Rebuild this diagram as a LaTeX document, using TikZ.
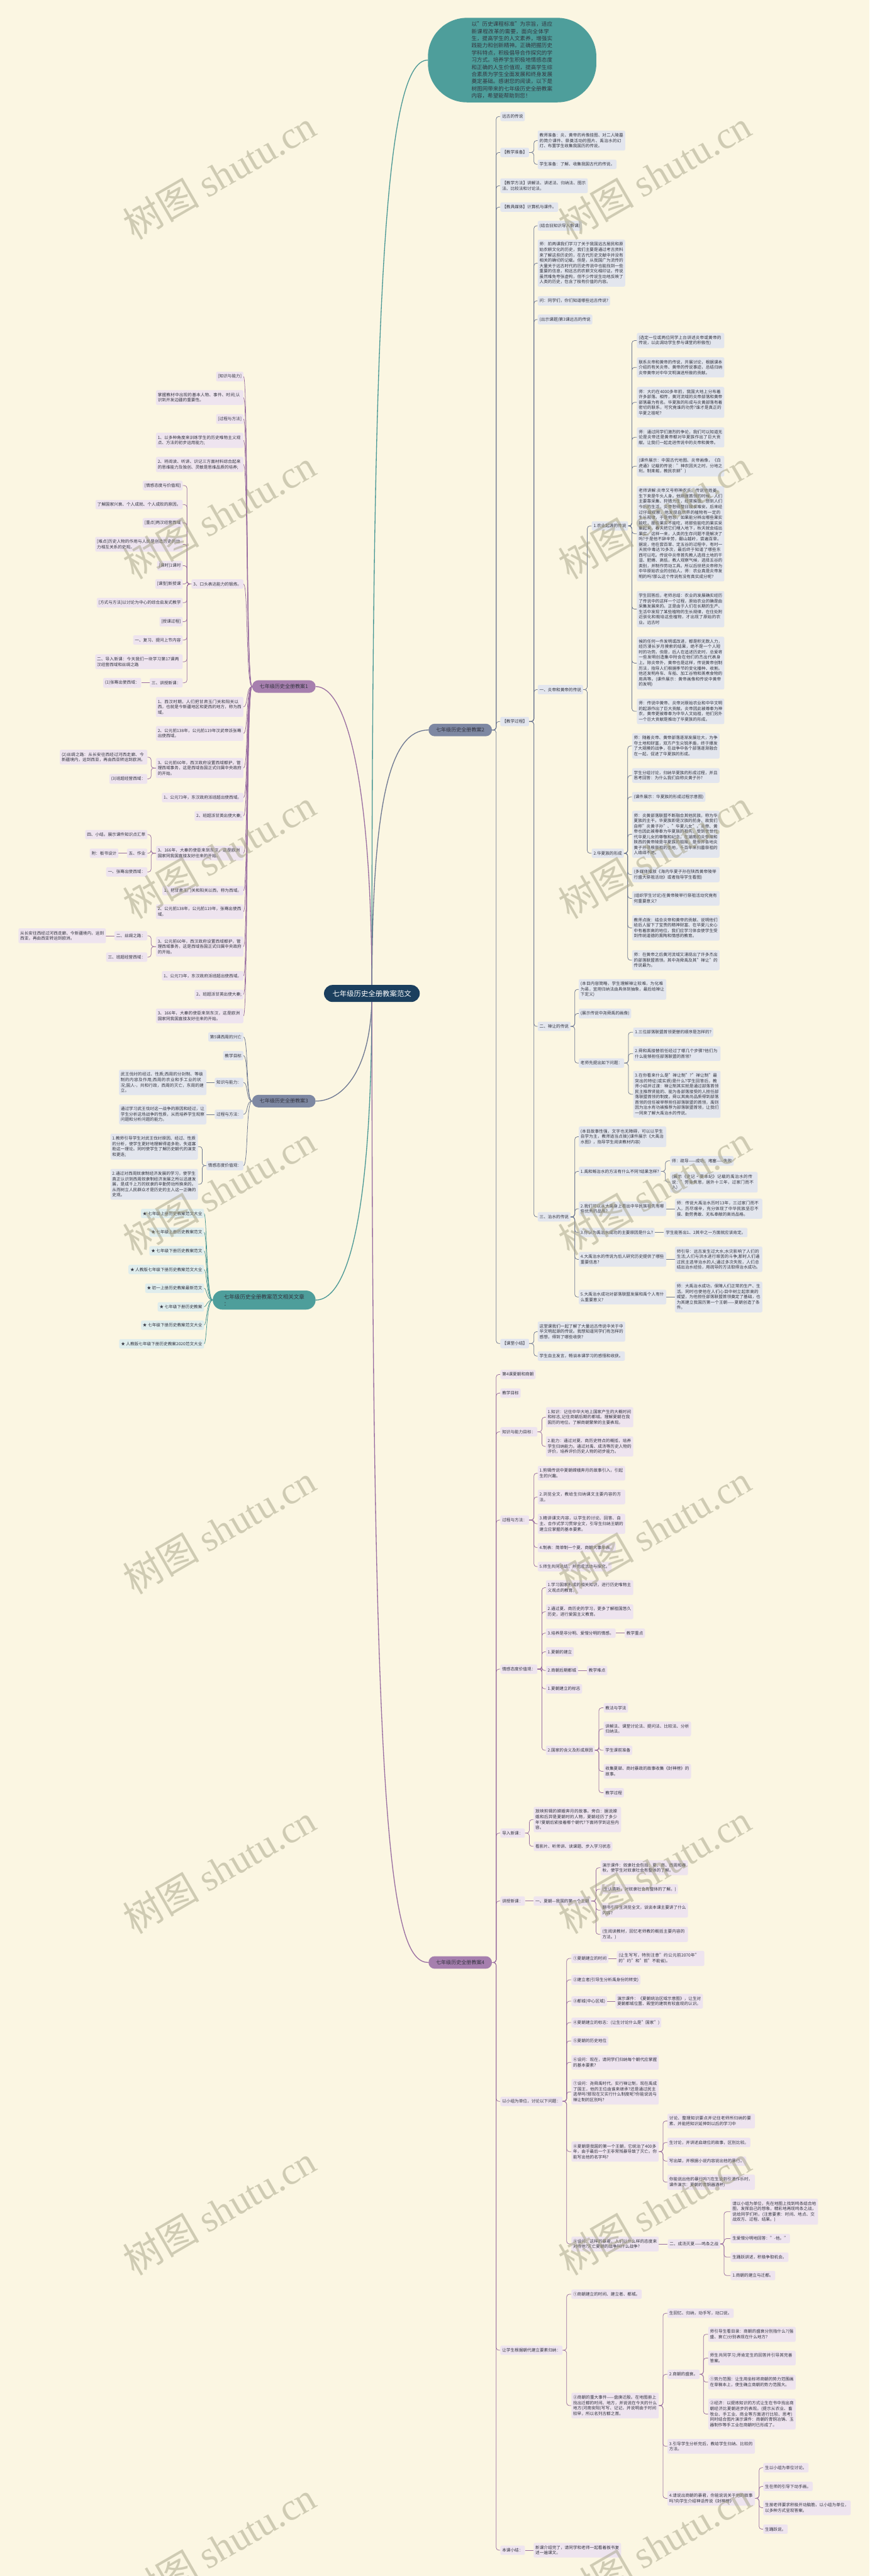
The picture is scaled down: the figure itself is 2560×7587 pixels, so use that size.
\documentclass[tikz,border=0pt]{standalone}
\usepackage{fontspec}
\setmainfont{Noto Sans CJK SC}
\newfontfamily\stampfont{Liberation Serif}
\XeTeXlinebreaklocale "zh"
\XeTeXlinebreakskip=0pt plus 1pt
\usetikzlibrary{positioning, backgrounds}
\definecolor{paper}{HTML}{FBF6E2}
\definecolor{navy}{HTML}{1B3F5E}
\definecolor{ink}{HTML}{33343F}
\definecolor{slate}{HTML}{7E88A2}
\definecolor{slatesoft}{HTML}{E3E6EE}
\definecolor{slateedge}{HTML}{6D7791}
\definecolor{plum}{HTML}{A67FAE}
\definecolor{plumsoft}{HTML}{EEE4EF}
\definecolor{plumedge}{HTML}{9A6EA1}
\definecolor{sea}{HTML}{4E9E9B}
\definecolor{seasoft}{HTML}{DFEDED}
\definecolor{seaedge}{HTML}{4A9895}
\definecolor{stampgray}{HTML}{A4A186}
\tikzset{
  rootbox/.style={rectangle, rounded corners=0.5cm, fill=navy, text=white,
    font=\fontsize{12}{14}\selectfont, minimum width=5.64cm, minimum height=1cm},
  introbox/.style={rectangle, rounded corners=2.3cm, fill=sea, text=ink,
    font=\fontsize{9}{12}\selectfont, text width=136pt, align=left,
    minimum width=9.92cm, minimum height=4.98cm},
  headbox/.style={rectangle, rounded corners=0.37cm, text=ink,
    font=\fontsize{8.5}{10}\selectfont, minimum width=3.74cm, minimum height=0.74cm},
  slatehead/.style={headbox, fill=slate},
  plumhead/.style={headbox, fill=plum},
  seahead/.style={headbox, fill=sea, rounded corners=0.56cm, minimum width=6.06cm,
    minimum height=1.12cm, align=left, inner xsep=0.56cm, font=\fontsize{9}{11}\selectfont},
  leaf/.style={rectangle, rounded corners=2.5pt, text=ink, font=\fontsize{7}{9}\selectfont,
    inner xsep=3pt, inner ysep=4.6pt, align=left},
  para/.style={text width=140.5pt},
  slateitem/.style={leaf, fill=slatesoft},
  plumitem/.style={leaf, fill=plumsoft},
  seaitem/.style={leaf, fill=seasoft},
  slateline/.style={draw=slateedge, line width=0.8pt, rounded corners=4.5pt},
  plumline/.style={draw=plumedge, line width=0.8pt, rounded corners=4.5pt},
  sealine/.style={draw=seaedge, line width=0.8pt, rounded corners=4.5pt},
  trunk/.style={line width=1.4pt},
  stamp/.style={rotate=30, text=stampgray, text opacity=0.5, font=\fontsize{64}{64}\selectfont},
}
\begin{document}
\begin{tikzpicture}[x=0.02cm, y=-0.02cm]
  \useasboundingbox (0,0) rectangle (2560,7587);

  \node[rootbox] (root) at (1095,2926) {七年级历史全册教案范文};
  \node[introbox] (intro) at (1508,177) {以"历史课程标准"为宗旨，适应新课程改革的需要，面向全体学生，提高学生的人文素养，增强实践能力和创新精神。正确把握历史学科特点，积极倡导合作探究的学习方式。培养学生积极地情感态度和正确的人生价值观，提高学生综合素质为学生全面发展和终身发展奠定基础。感谢您的阅读，以下是树图网带来的七年级历史全册教案内容，希望能帮助到您！};

  \node[plumhead, anchor=west] (p1) at (742,2022) {七年级历史全册教案1};
  \node[slatehead, anchor=east] (p2) at (1449,2150) {七年级历史全册教案2};
  \node[slatehead, anchor=west] (p3) at (742,3243) {七年级历史全册教案3};
  \node[seahead, anchor=west] (rel) at (626,3829) {七年级历史全册教案范文相关文章\\：};
  \node[plumhead, anchor=east] (p4) at (1449,5780) {七年级历史全册教案4};

  % 教案2
  \node[slateitem, anchor=west] (b2a) at (1473,343) {远古的传说};
  \node[slateitem, anchor=west] (b2prep) at (1473,449) {【教学准备】};
  \node[slateitem, para, anchor=west] (b2prepA) at (1583,414) {教师准备：炎、黄帝的肖像挂图、对二人陵墓的简介课件、祭奠活动的图片、禹治水的幻灯、布置学生收集我国历的传说。};
  \node[slateitem, anchor=west] (b2prepB) at (1583,484) {学生准备：了解、收集我国古代的传说。};
  \node[slateitem, para, anchor=west] (b2meth) at (1473,547) {【教学方法】讲解法、讲述法、归纳法、图示法、比较法和讨论法。};
  \node[slateitem, anchor=west] (b2media) at (1473,610) {【教具媒体】计算机与课件。};
  \node[slateitem, anchor=west] (b2proc) at (1473,2125) {【教学过程】};
  \node[slateitem, anchor=west] (b2i1) at (1583,665) {(结合旧知识导入新课)};
  \node[slateitem, para, anchor=west] (b2i2) at (1583,775) {师：前两课我们学习了关于我国远古居民和原始农耕文化的历史，我们主要是通过考古资料来了解这些历史的，在古代历史文献中并没有相关的确切的记载。但是，从我国广为流传的大量关于远古时代的历史传说中也能找到一些重要的信息，和远古的农耕文化相印证。传说虽然难免夸张虚构，但不少传说生动地反映了人类的历史，包含了极有价值的内容。};
  \node[slateitem, anchor=west] (b2i3) at (1583,886) {问：同学们，你们知道哪些远古传说?};
  \node[slateitem, anchor=west] (b2i4) at (1583,941) {(出示课题)第3课远古的传说};
  \node[slateitem, anchor=west] (b2yan) at (1583,2031) {一、炎帝和黄帝的传说};
  \node[slateitem, anchor=west] (b2chan) at (1583,3023) {二、禅让的传说};
  \node[slateitem, anchor=west] (b2flood) at (1583,3584) {三、治水的传说};

  \node[slateitem, anchor=west] (b2farm) at (1742,1549) {1.农业起源的传说};
  \node[slateitem, para, anchor=west] (farm1) at (1875,1003) {(选定一位或两位同学上台讲述炎帝或黄帝的传说，以此调动学生参与课堂的积极性)};
  \node[slateitem, para, anchor=west] (farm2) at (1875,1082) {联系炎帝和黄帝的传说，开展讨论，根据课本介绍的有关炎帝、黄帝的传说事迹，总结归纳炎帝黄帝对中华文明演进所做的贡献。};
  \node[slateitem, para, anchor=west] (farm3) at (1875,1185) {师：大约在4000多年前，我国大地上分布着许多部落。相传，黄河流域的炎帝部落和黄帝部落最为有名。华夏族的形成与炎黄部落有着密切的联系，可究竟谁的功劳?谁才是真正的华夏之祖呢?};
  \node[slateitem, para, anchor=west] (farm4) at (1875,1288) {师：通过同学们激烈的争论，我们可以知道无论是炎帝还是黄帝都对华夏族作出了巨大贡献。让我们一起走进传说中的炎帝和黄帝。};
  \node[slateitem, para, anchor=west] (farm5) at (1875,1373) {(课件展示：中国古代地图、炎帝画像，《白虎通》记载的传说："神农因天之时，分地之利，制耒耜，教民农耕")};
  \node[slateitem, para, anchor=west] (farm6) at (1875,1572) {老师讲解:炎帝又号称神农氏。传说他姓姜，生下来是牛头人身。他刚做首领的时候，人们主要靠采集、狩猎为生，经常挨饿。想到人们今后的生活，炎帝愁得整日寝食难安。后来经过仔细观察，他发现自然界的植物有一定的生长规律，于是他想，如果能分辨出哪些果实能吃，那些果实不能吃，将那些能吃的果实采集起来，春天把它们埋入地下，秋天就会结出果实。这样一来，人类的生存问题不是解决了吗?于是他不辞辛劳，翻山越岭，尝遍百草。据说，他在尝百草、定五谷的过程中，有时一天就中毒达70多次，最后终于知道了哪些东西可以吃。传说中炎帝首先教人选择土地的干湿、肥瘠、高低，教人观察气候，选择五谷的类别，并制作劳动工具。所以后世把炎帝称为中华原始农业的创始人。师：农业真是炎帝发明的吗?那么这个传说有没有真实成分呢?};
  \node[slateitem, para, anchor=west] (farm7) at (1875,1794) {学生回答后，老师总结：农业的发展确实经历了传说中的这样一个过程，原始农业的确是由采集发展来的。正是由于人们在长期的生产、生活中发现了某些植物的生长规律，在住处附近驯化和栽培这些植物，才出现了原始的农业。远古时};
  \node[slateitem, para, anchor=west] (farm8) at (1875,1953) {候的任何一件发明或改进，都是积无数人力，经历漫长岁月摸索的结果，绝不是一个人短时的功劳。但是，后人在追述历史时，总爱将一些发明创造集中附会在他们的杰出代表身上。除炎帝外，黄帝也是这样，传说黄帝创制历法，指导人们根据季节的变化播种、收割。他还发明舟车、车船、加工谷物和蒸煮食物的用具等。(课件展示：黄帝画像和传说中黄帝的发明)};
  \node[slateitem, para, anchor=west] (farm9) at (1875,2095) {师：传说中黄帝、炎帝对原始农业和中华文明的起源作出了巨大贡献。炎帝因此被尊奉为神农，黄帝更被尊奉为中华人文始祖，他们另外一个巨大贡献是推动了华夏族的形成。};

  \node[slateitem, anchor=west] (b2hx) at (1742,2513) {2.华夏族的形成};
  \node[slateitem, para, anchor=west] (hx1) at (1861,2197) {师：随着炎帝、黄帝部落逐渐发展壮大，为争夺土地和财富，双方产生尖锐矛盾，终于爆发了大规模的战争，在战争中各个部落逐渐融合在一起，促进了华夏族的形成。};
  \node[slateitem, para, anchor=west] (hx2) at (1861,2284) {学生分组讨论，归纳华夏族的形成过程，并且思考回答：为什么我们自称炎黄子孙?};
  \node[slateitem, anchor=west] (hx3) at (1861,2347) {(课件展示：华夏族的形成过程示意图)};
  \node[slateitem, para, anchor=west] (hx4) at (1861,2457) {师：炎黄部落联盟不断融合其他民族，称为华夏族的主干。华夏族即是汉族的前身，故我们自称"炎黄子孙"、"华夏儿女"。炎帝、黄帝也因此被尊奉为华夏族的祖先，受到世世代代华夏儿女的尊敬和纪念，在湖南的炎帝陵和陕西的黄帝陵是华夏族的祖陵，是世界各地炎黄子孙寻根祭祖的圣地，千百年来扫墓祭祖的人络绎不绝。};
  \node[slateitem, para, anchor=west] (hx5) at (1861,2576) {(多媒体播放《海内华夏子孙在陕西黄帝陵举行盛大祭祖活动》或者指导学生看图)};
  \node[slateitem, para, anchor=west] (hx6) at (1861,2646) {(组织学生讨论)在黄帝陵举行祭祖活动究竟有何重要意义?};
  \node[slateitem, para, anchor=west] (hx7) at (1861,2733) {教师点拨：结合炎帝和黄帝的贡献、说明他们给后人留下了宝贵的精神财富、在华夏儿女心中有着崇高的地位，我们应学习体会使学生受到传统道德的熏陶和情感的教育。};
  \node[slateitem, para, anchor=west] (hx8) at (1861,2828) {师：在黄帝之后黄河流域又涌现出了许多杰出的部落联盟首领。其中尧舜禹及其"禅让"的传说最为。};

  \node[slateitem, para, anchor=west] (ch1) at (1704,2914) {(本目内容简略，学生理解禅让较难，为化难为易，宜用归纳法由具体到抽象，最后给禅让下定义)};
  \node[slateitem, anchor=west] (ch2) at (1704,2985) {(展示传说中尧舜禹的画像)};
  \node[slateitem, anchor=west] (ch3) at (1704,3131) {老师先提出如下问题：};
  \node[slateitem, anchor=west] (q1) at (1864,3040) {1.三位部落联盟首领更替的顺序是怎样的?};
  \node[slateitem, para, anchor=west] (q2) at (1864,3103) {2.舜和禹接替前任经过了哪几个步骤?他们为什么能够担任部落联盟的首领?};
  \node[slateitem, para, anchor=west] (q3) at (1864,3223) {3.在你看来什么是"禅让制"?"禅让制"最突出的特征(或实质)是什么?学生回答后，教师小结并过渡：禅让制其实就是通过部落首领民主推荐贤能的、能为各部落接受的人担任部落联盟首领的制度。舜以其高尚品质得到部落首领的信任被举荐担任部落联盟的首领，禹则因为治水有功被推荐为部落联盟首领，让我们一同来了解大禹治水的传说。};

  \node[slateitem, para, anchor=west] (w1) at (1704,3348) {(本目故事性强，文字也无障碍，可以以学生自学为主，教师适当点拨)(课件展示《大禹治水图》，指导学生阅读教材内容)};
  \node[slateitem, anchor=west] (w2) at (1704,3450) {1.禹和鲧治水的方法有什么不同?结果怎样?};
  \node[slateitem, anchor=west] (w2a) at (1973,3419) {师：疏导——成功；堵塞——失败};
  \node[slateitem, para, anchor=west] (w2b) at (1973,3482) {(展示《史记•夏本纪》记载的禹治水的传说："劳身焦思，居外十三年，过家门而不入)};
  \node[slateitem, para, anchor=west] (w3) at (1704,3560) {2.我们可以从大禹身上看出中华民族祖先有哪些优秀的品质?};
  \node[slateitem, para, anchor=west] (w3a) at (1987,3560) {师：传说大禹治水历时13年，三过家门而不入，历尽艰辛，充分体现了中华民族坚忍不拔、勤劳勇敢、无私奉献的高尚品格。};
  \node[slateitem, anchor=west] (w4) at (1704,3630) {3.你认为禹治水成功的主要原因是什么?};
  \node[slateitem, anchor=west] (w4a) at (1955,3630) {学生能答出1、2其中之一方面就应该肯定。};
  \node[slateitem, para, anchor=west] (w5) at (1704,3709) {4.大禹治水的传说为后人研究历史提供了哪些重要信息?};
  \node[slateitem, para, anchor=west] (w5a) at (1987,3709) {师引导：远古发生过大水;水灾影响了人们的生活;人们与洪水进行艰苦的斗争;那时人们通过民主选举治水的人;通过多次失败，人们总结出治水经验，用疏导的方法取得治水成功。};
  \node[slateitem, para, anchor=west] (w6) at (1704,3820) {5.大禹治水成功对部落联盟发展和禹个人有什么重要意义?};
  \node[slateitem, para, anchor=west] (w6a) at (1987,3820) {师：大禹治水成功，保障人们正常的生产、生活。同时也使他在人们心目中树立起崇高的威望，为他担任部落联盟首领奠定了基础，也为其建立我国历第一个王朝——夏朝创造了条件。};

  \node[slateitem, anchor=west] (b2sum) at (1473,3957) {【课堂小结】};
  \node[slateitem, para, anchor=west] (sum1) at (1583,3922) {这堂课我们一起了解了大量远古传说中关于中华文明起源的传说。我想知道同学们有怎样的感想，得到了哪些收获?};
  \node[slateitem, anchor=west] (sum2) at (1583,3994) {学生自主发言，畅谈本课学习的感悟和收获。};

  % 教案4
  \node[plumitem, anchor=west] (d1) at (1473,4048) {第4课夏朝和商朝};
  \node[plumitem, anchor=west] (d2) at (1473,4103) {教学目标};
  \node[plumitem, anchor=west] (d3) at (1473,4217) {知识与能力目标：};
  \node[plumitem, para, anchor=west] (d3a) at (1607,4174) {1.知识：记住中华大地上国家产生的大概时间和标志,记住商朝后期的都城。理解夏朝在我国历的地位。了解商朝繁荣的主要表现。};
  \node[plumitem, para, anchor=west] (d3b) at (1607,4260) {2.能力：通过对夏、商历史特点的概括，培养学生归纳能力。通过对禹、成汤等历史人物的评价，培养评价历史人物的初步能力。};
  \node[plumitem, anchor=west] (d4) at (1473,4477) {过程与方法：};
  \node[plumitem, para, anchor=west] (d4a) at (1583,4339) {1.剪辑传说中夏朝嫦娥奔月的故事引入，引起生的兴趣。};
  \node[plumitem, para, anchor=west] (d4b) at (1583,4409) {2.浏览全文，教给生归纳课文主要内容的方法。};
  \node[plumitem, para, anchor=west] (d4c) at (1583,4488) {3.精讲课文内容，以学生的讨论、回答、自主、合作式学习贯穿全文，引导生归纳王朝的建立应掌握的基本要素。};
  \node[plumitem, anchor=west] (d4d) at (1583,4558) {4.制表：简单制一个夏、商朝大事年表。};
  \node[plumitem, anchor=west] (d4e) at (1583,4614) {5.师生共同总结，并完成活动与探究。};
  \node[plumitem, anchor=west] (d5) at (1473,4916) {情感态度价值观：};
  \node[plumitem, para, anchor=west] (d5a) at (1607,4676) {1.学习国家形成的相关知识，进行历史唯物主义观点的教育。};
  \node[plumitem, para, anchor=west] (d5b) at (1607,4747) {2.通过夏、商历史的学习，更多了解祖国悠久历史，进行爱国主义教育。};
  \node[plumitem, anchor=west] (d5c) at (1607,4810) {3.培养是非分明、爱憎分明的情感。};
  \node[plumitem, anchor=west] (d5ck) at (1839,4810) {教学重点};
  \node[plumitem, anchor=west] (d5d) at (1607,4865) {1.夏朝的建立};
  \node[plumitem, anchor=west] (d5e) at (1607,4920) {2.商朝后期都城};
  \node[plumitem, anchor=west] (d5ek) at (1728,4920) {教学难点};
  \node[plumitem, anchor=west] (d5f) at (1607,4974) {1.夏朝建立的标志};
  \node[plumitem, anchor=west] (d5g) at (1607,5155) {2.国家的含义及形成原因};
  \node[plumitem, anchor=west] (d5g1) at (1777,5030) {教法与学法};
  \node[plumitem, para, anchor=west] (d5g2) at (1777,5092) {讲解法、课堂讨论法、提问法、比较法、分析归纳法。};
  \node[plumitem, anchor=west] (d5g3) at (1777,5155) {学生课前准备};
  \node[plumitem, para, anchor=west] (d5g4) at (1777,5217) {收集夏桀、商纣暴政的故事收集《封神榜》的故事。};
  \node[plumitem, anchor=west] (d5g5) at (1777,5280) {教学过程};
  \node[plumitem, anchor=west] (d6) at (1473,5399) {导入新课：};
  \node[plumitem, para, anchor=west] (d6a) at (1571,5359) {放映剪辑的嫦娥奔月的故事。旁白：据说嫦娥和后羿是夏朝时的人物，夏朝经历了多少年?夏朝后紧接着哪个朝代?下面将学到这些内容。};
  \node[plumitem, anchor=west] (d6b) at (1571,5438) {看影片、听师讲、读课题、步入学习状态};
  \node[plumitem, anchor=west] (d7) at (1473,5599) {讲授新课：};
  \node[plumitem, anchor=west] (d7a) at (1571,5599) {一、夏朝—我国的第一个王朝};
  \node[plumitem, para, anchor=west] (d7a1) at (1768,5501) {演示课件：奴隶社会包括：夏、商、西周和春秋，使学生对奴隶社会有整体的了解。};
  \node[plumitem, anchor=west] (d7a2) at (1768,5564) {(生认真听，对奴隶社会有整体的了解。)};
  \node[plumitem, para, anchor=west] (d7a3) at (1768,5626) {翻书引导生浏览全文，谈谈本课主要讲了什么内容?};
  \node[plumitem, para, anchor=west] (d7a4) at (1768,5697) {(生阅读教材，回忆老师教的概括主要内容的方法。)};
  \node[plumitem, anchor=west] (d8) at (1473,6189) {以小组为单位，讨论以下问题：};
  \node[plumitem, anchor=west] (g1) at (1682,5768) {①夏朝建立的时间};
  \node[plumitem, para, anchor=west] (g1a) at (1816,5768) {(让生写写，特别注意"约公元前2070年"的"约"和"前"不能省)。};
  \node[plumitem, anchor=west] (g2) at (1682,5831) {②建立者(引导生分析禹身份的转变)};
  \node[plumitem, anchor=west] (g3) at (1682,5894) {③都城(中心区域)};
  \node[plumitem, para, anchor=west] (g3a) at (1812,5894) {演示课件：《夏朝统治区域示意图》，让生对夏朝都城位置、殿堂的建筑有较直观的认识。};
  \node[plumitem, anchor=west] (g4) at (1682,5957) {④夏朝建立的标志：(让生讨论什么是"国家")};
  \node[plumitem, anchor=west] (g5) at (1682,6011) {⑤夏朝的历史地位};
  \node[plumitem, para, anchor=west] (g6) at (1682,6074) {⑥设问：现在，请同学们归纳每个朝代应掌握的基本要素?};
  \node[plumitem, para, anchor=west] (g7) at (1682,6161) {⑦设问：尧舜禹时代，实行禅让制，现在禹成了国王，他的王位由谁来继承?还是通过民主选举吗?那现在又实行什么制度呢?你能说说与禅让制的区别吗?};
  \node[plumitem, para, anchor=west] (g8) at (1682,6337) {⑧夏朝是我国的第一个王朝，它统治了400多年，由于最后一个王非常残暴导致了灭亡。你能写出他的名字吗?};
  \node[plumitem, para, anchor=west] (g8a) at (1965,6247) {讨论、整理知识要点并记住老师所归纳的要素、并能把知识延伸到以后的学习中};
  \node[plumitem, anchor=west] (g8b) at (1965,6310) {生讨论，并讲述启继位的故事，区别比较。};
  \node[plumitem, anchor=west] (g8c) at (1965,6365) {写出桀，并根据小说内容说出他的暴行。};
  \node[plumitem, para, anchor=west] (g8d) at (1965,6427) {你能说出他的暴行吗?(在生说到引酒作乐时，课件演示：夏朝的青铜器酒杯)};
  \node[plumitem, para, anchor=west] (g9) at (1682,6609) {⑨设问：这样的暴君，人们以什么样的态度来对待他?灭亡夏朝的战争叫什么战争?};
  \node[plumitem, anchor=west] (g9a) at (1966,6609) {二、成汤灭夏——鸣条之战};
  \node[plumitem, para, anchor=west] (g9a1) at (2151,6514) {请以小组为单位，先在地图上找到鸣条结合地图，发挥自己的想象，精彩地再现鸣条之战，说给同学们听。(注意要素：时间、地点、交战双方、过程、结果。)};
  \node[plumitem, anchor=west] (g9a2) at (2151,6593) {生爱憎分明地回答："-他。"};
  \node[plumitem, anchor=west] (g9a3) at (2151,6648) {生踊跃讲述，积极争取机会。};
  \node[plumitem, anchor=west] (g9a4) at (2151,6702) {1.商朝的建立与迁都。};
  \node[plumitem, anchor=west] (d9) at (1473,6922) {让学生根据朝代建立要素归纳：};
  \node[plumitem, anchor=west] (k1) at (1682,6757) {①商朝建立的时间、建立者、都城。};
  \node[plumitem, para, anchor=west] (k2) at (1682,7085) {②商朝的重大事件——盘庚迁殷。在地图册上找出迁都的时间、地方，并说说在今天的什么地方(河南安阳)写写、记记，并说明由于时间较早，所以名列古都之首。};
  \node[plumitem, anchor=west] (k2a) at (1965,6813) {生回忆、归纳，动手写，动口说。};
  \node[plumitem, anchor=west] (k2b) at (1965,6993) {2.商朝的盛衰。};
  \node[plumitem, para, anchor=west] (k2b1) at (2085,6875) {师引导生看目录：商朝的盛衰分别指什么?(强盛、衰亡)分别表现在什么地方?};
  \node[plumitem, para, anchor=west] (k2b2) at (2085,6945) {师生共同学习;师肯定生的回答并引导其完善答案。};
  \node[plumitem, para, anchor=west] (k2b3) at (2085,7016) {①势力范围：让生用坐标将商朝的势力范围画在草稿本上，使生确立商朝的势力范围大。};
  \node[plumitem, para, anchor=west] (k2b4) at (2085,7110) {②经济：以提炼知识的方式让生在书中找出商朝经济比夏朝进步的表现。(提示从农业、畜牧业、手工业、商业等方面进行比较、思考)同时结合图片演示课件：商朝的青铜冶铸、玉器制作等手工业在商朝时已形成了。};
  \node[plumitem, para, anchor=west] (k2c) at (1965,7205) {3.引导学生分析完后，教给学生归纳、比较的方法。};
  \node[plumitem, para, anchor=west] (k2d) at (1965,7358) {4.请说出商朝的暴君，你能说说关于他的故事吗?向学生介绍神话传说《封神榜》};
  \node[plumitem, anchor=west] (k2d1) at (2247,7268) {生以小组为单位讨论。};
  \node[plumitem, anchor=west] (k2d2) at (2247,7323) {生在师的引导下动手画。};
  \node[plumitem, para, anchor=west] (k2d3) at (2247,7386) {生按老师要求积极开动脑筋，以小组为单位，以多种方式呈现答案。};
  \node[plumitem, anchor=west] (k2d4) at (2247,7449) {生踊跃说。};
  \node[plumitem, anchor=west] (d10) at (1473,7511) {本课小结：};
  \node[plumitem, para, anchor=west] (d10a) at (1571,7511) {新课介绍完了，请同学和老师一起看着板书复述一遍课文。};

  % 教案1
  \node[plumitem, anchor=east] (e1) at (717,1109) {[知识与能力]};
  \node[plumitem, para, anchor=east] (e2) at (717,1171) {掌握教材中出现的基本人物、事件、时间;认识到开发边疆的重要性。};
  \node[plumitem, anchor=east] (e3) at (717,1234) {[过程与方法]};
  \node[plumitem, para, anchor=east] (e4) at (717,1297) {1、以多种角度来训练学生的历史唯物主义观点、方法的初步运用能力;};
  \node[plumitem, para, anchor=east] (e5) at (717,1368) {2、将阅读、听讲、识记三方面材料综合起来的思维能力及独创、灵敏是思维品质的培养;};
  \node[plumitem, anchor=east] (e6) at (717,1720) {3、口头表达能力的锻炼。};
  \node[plumitem, anchor=east] (e6a) at (538,1430) {[情感态度与价值观]};
  \node[plumitem, anchor=east] (e6b) at (538,1486) {了解国家兴衰、个人成就、个人成败的原因。};
  \node[plumitem, anchor=east] (e6c) at (538,1540) {[重点]两汉经营西域};
  \node[plumitem, para, anchor=east] (e6d) at (538,1603) {[难点]历史人物的作用与人民是创造历史的动力相互关系的史观。};
  \node[plumitem, anchor=east] (e6e) at (538,1666) {[课时]1课时};
  \node[plumitem, anchor=east] (e6f) at (538,1720) {[课型]新授课};
  \node[plumitem, anchor=east] (e6g) at (538,1775) {[方式与方法]以讨论为中心的综合启发式教学};
  \node[plumitem, anchor=east] (e6h) at (538,1831) {[授课过程]};
  \node[plumitem, anchor=east] (e6i) at (538,1885) {一、复习、提问上节内容};
  \node[plumitem, para, anchor=east] (e6j) at (538,1949) {二、导入新课：今天我们一块学习第17课两汉经营西域和丝绸之路};
  \node[plumitem, anchor=east] (e6k) at (538,2011) {三、讲授新课：};
  \node[plumitem, anchor=east] (e6k1) at (416,2011) {(1)张骞出使西域：};
  \node[plumitem, para, anchor=east] (e7) at (717,2082) {1、西汉时期，人们把甘肃玉门关和阳关以西，也就是今新疆地区和更西的地方，称为西域。};
  \node[plumitem, para, anchor=east] (e8) at (717,2160) {2、公元前138年，公元前119年汉武帝派张骞出使西域。};
  \node[plumitem, para, anchor=east] (e9) at (717,2262) {3、公元前60年，西汉政府设置西域都护，管理西域事务，这是西域各国正式归属中央政府的开始。};
  \node[plumitem, para, anchor=east] (e9a) at (434,2230) {(2)丝绸之路：从长安往西经过河西走廊、今新疆境内，运到西亚，再由西亚转运到欧洲。};
  \node[plumitem, anchor=east] (e9b) at (434,2294) {(3)班超经营西域：};
  \node[plumitem, anchor=east] (e10) at (717,2349) {1、公元73年，东汉政府派班超出使西域。};
  \node[plumitem, anchor=east] (e11) at (717,2403) {2、班超派甘英出使大秦;};
  \node[plumitem, para, anchor=east] (e12) at (717,2513) {3、166年，大秦的使臣来到东汉，这是欧洲国家同我国直接友好往来的开始。};
  \node[plumitem, anchor=east] (e12a) at (434,2458) {四、小结。展示课件知识点汇萃};
  \node[plumitem, anchor=east] (e12b) at (434,2513) {五、作业};
  \node[plumitem, anchor=east] (e12b1) at (349,2513) {附：板书设计};
  \node[plumitem, anchor=east] (e12c) at (434,2568) {一、张骞出使西域：};
  \node[plumitem, anchor=east] (e13) at (717,2623) {1、把甘肃玉门关和阳关以西，称为西域。};
  \node[plumitem, para, anchor=east] (e14) at (717,2685) {2、公元前138年，公元前119年，张骞出使西域。};
  \node[plumitem, para, anchor=east] (e15) at (717,2788) {3、公元前60年，西汉政府设置西域都护，管理西域事务，这是西域各国正式归属中央政府的开始。};
  \node[plumitem, anchor=east] (e15a) at (434,2756) {二、丝绸之路：};
  \node[plumitem, para, anchor=east] (e15a1) at (312,2756) {从长安往西经过河西走廊、今新疆境内，运到西亚，再由西亚转运到欧洲。};
  \node[plumitem, anchor=east] (e15b) at (434,2819) {三、班超经营西域：};
  \node[plumitem, anchor=east] (e16) at (717,2874) {1、公元73年，东汉政府派班超出使西域。};
  \node[plumitem, anchor=east] (e17) at (717,2929) {2、班超派甘英出使大秦;};
  \node[plumitem, para, anchor=east] (e18) at (717,2992) {3、166年，大秦的使臣来到东汉，这是欧洲国家同我国直接友好往来的开始。};

  % 教案3
  \node[slateitem, anchor=east] (t1) at (717,3054) {第5课西周的兴亡};
  \node[slateitem, anchor=east] (t2) at (717,3109) {教学目标};
  \node[slateitem, anchor=east] (t3) at (717,3188) {知识与能力：};
  \node[slateitem, para, anchor=east] (t3a) at (608,3188) {武王伐纣的经过、性质;西周的分封制、等级制的内容及作用;西周的农业和手工业的状况;国人-，共和行政，西周的灭亡，东周的建立。};
  \node[slateitem, anchor=east] (t4) at (717,3282) {过程与方法：};
  \node[slateitem, para, anchor=east] (t4a) at (608,3282) {通过学习武王伐纣这一战争的原因和经过，让学生分析这场战争的性质，从而培养学生观察问题和分析问题的能力。};
  \node[slateitem, anchor=east] (t5) at (717,3433) {情感态度价值观：};
  \node[slateitem, para, anchor=east] (t5a) at (583,3377) {1.教师引导学生对武王伐纣原因、经过、性质的分析，使学生更好地理解得道多助，失道寡助这一理论。同时使学生了解历史朝代的演变和更迭;};
  \node[slateitem, para, anchor=east] (t5b) at (583,3488) {2.通过对西周奴隶制经济发展的学习，使学生真正认识到西周奴隶制经济发展之所以迅速发展，是成千上万的奴隶的辛勤劳动所换来的。从而树立人民群众才是历史的主人这一正确的史观。};

  % related
  \node[seaitem, anchor=east] (r1) at (601,3574) {★ 七年级上册历史教案范文大全};
  \node[seaitem, anchor=east] (r2) at (601,3629) {★ 七年级上册历史教案范文};
  \node[seaitem, anchor=east] (r3) at (601,3684) {★ 七年级下册历史教案范文};
  \node[seaitem, anchor=east] (r4) at (601,3739) {★ 人教版七年级下册历史教案范文大全};
  \node[seaitem, anchor=east] (r5) at (601,3794) {★ 初一上册历史教案最新范文};
  \node[seaitem, anchor=east] (r6) at (601,3849) {★ 七年级下册历史教案};
  \node[seaitem, anchor=east] (r7) at (601,3903) {★ 七年级下册历史教案范文大全};
  \node[seaitem, anchor=east] (r8) at (601,3958) {★ 人教版七年级下册历史教案2020范文大全};

  \begin{scope}[on background layer]
    \fill[paper] (0,0) rectangle (2560,7587);
    \draw[seaedge, trunk] (root.center) .. controls (1095,900) and (1130,177) .. (intro.west);
    \draw[plumedge, trunk] (root.center) .. controls (1095,2300) and (1020,2022) .. (p1.east);
    \draw[slateedge, trunk] (root.center) .. controls (1095,2350) and (1150,2150) .. (p2.west);
    \draw[slateedge, trunk] (root.center) .. controls (1095,3150) and (1010,3243) .. (p3.east);
    \draw[seaedge, trunk] (root.center) .. controls (1095,3650) and (1010,3829) .. (rel.east);
    \draw[plumedge, trunk] (root.center) .. controls (1095,5400) and (1150,5780) .. (p4.west);

    % 教案2
    \foreach \c in {b2a,b2prep,b2meth,b2media,b2proc,b2sum}
      \draw[slateline] (p2.east) -- ++(12,0) |- (\c.west);
    \foreach \c in {b2prepA,b2prepB}
      \draw[slateline] (b2prep.east) -- ++(14,0) |- (\c.west);
    \foreach \c in {b2i1,b2i2,b2i3,b2i4,b2yan,b2chan,b2flood}
      \draw[slateline] (b2proc.east) -- ++(14,0) |- (\c.west);
    \foreach \c in {b2farm,b2hx}
      \draw[slateline] (b2yan.east) -- ++(12,0) |- (\c.west);
    \foreach \i in {1,...,9}
      \draw[slateline] (b2farm.east) -- ++(11,0) |- (farm\i.west);
    \foreach \i in {1,...,8}
      \draw[slateline] (b2hx.east) -- ++(11,0) |- (hx\i.west);
    \foreach \c in {ch1,ch2,ch3}
      \draw[slateline] (b2chan.east) -- ++(12,0) |- (\c.west);
    \foreach \c in {q1,q2,q3}
      \draw[slateline] (ch3.east) -- ++(12,0) |- (\c.west);
    \foreach \c in {w1,w2,w3,w4,w5,w6}
      \draw[slateline] (b2flood.east) -- ++(12,0) |- (\c.west);
    \foreach \c in {w2a,w2b}
      \draw[slateline] (w2.east) -- ++(13,0) |- (\c.west);
    \foreach \c in {w3,w4,w5,w6}
      \draw[slateline] (\c.east) -- (\c a.west);
    \foreach \c in {sum1,sum2}
      \draw[slateline] (b2sum.east) -- ++(14,0) |- (\c.west);

    % 教案4
    \foreach \i in {1,...,10}
      \draw[plumline] (p4.east) -- ++(12,0) |- (d\i.west);
    \foreach \c in {a,b}
      \draw[plumline] (d3.east) -- ++(13,0) |- (d3\c.west);
    \foreach \c in {a,...,e}
      \draw[plumline] (d4.east) -- ++(14,0) |- (d4\c.west);
    \foreach \c in {a,...,g}
      \draw[plumline] (d5.east) -- ++(13,0) |- (d5\c.west);
    \draw[plumline] (d5c.east) -- (d5ck.west);
    \draw[plumline] (d5e.east) -- (d5ek.west);
    \foreach \i in {1,...,5}
      \draw[plumline] (d5g.east) -- ++(12,0) |- (d5g\i.west);
    \foreach \c in {a,b}
      \draw[plumline] (d6.east) -- ++(13,0) |- (d6\c.west);
    \draw[plumline] (d7.east) -- (d7a.west);
    \foreach \i in {1,...,4}
      \draw[plumline] (d7a.east) -- ++(14,0) |- (d7a\i.west);
    \foreach \i in {1,...,9}
      \draw[plumline] (d8.east) -- ++(12,0) |- (g\i.west);
    \draw[plumline] (g1.east) -- (g1a.west);
    \draw[plumline] (g3.east) -- (g3a.west);
    \foreach \c in {a,...,d}
      \draw[plumline] (g8.east) -- ++(12,0) |- (g8\c.west);
    \draw[plumline] (g9.east) -- (g9a.west);
    \foreach \i in {1,...,4}
      \draw[plumline] (g9a.east) -- ++(11,0) |- (g9a\i.west);
    \foreach \c in {k1,k2}
      \draw[plumline] (d9.east) -- ++(12,0) |- (\c.west);
    \foreach \c in {a,...,d}
      \draw[plumline] (k2.east) -- ++(12,0) |- (k2\c.west);
    \foreach \i in {1,...,4}
      \draw[plumline] (k2b.east) -- ++(11,0) |- (k2b\i.west);
    \foreach \i in {1,...,4}
      \draw[plumline] (k2d.east) -- ++(12,0) |- (k2d\i.west);
    \draw[plumline] (d10.east) -- (d10a.west);

    % 教案1
    \foreach \i in {1,...,18}
      \draw[plumedge, line width=0.8pt] (p1.west) .. controls +(-18,0) and +(14,0) .. (e\i.east);
    \foreach \c in {a,...,k}
      \draw[plumline] (e6.west) -- ++(-13,0) |- (e6\c.east);
    \draw[plumline] (e6k.west) -- (e6k1.east);
    \foreach \c in {a,b}
      \draw[plumline] (e9.west) -- ++(-14,0) |- (e9\c.east);
    \foreach \c in {a,b,c}
      \draw[plumline] (e12.west) -- ++(-14,0) |- (e12\c.east);
    \draw[plumline] (e12b.west) -- (e12b1.east);
    \foreach \c in {a,b}
      \draw[plumline] (e15.west) -- ++(-14,0) |- (e15\c.east);
    \draw[plumline] (e15a.west) -- (e15a1.east);

    % 教案3 and related
    \foreach \i in {1,...,5}
      \draw[slateedge, line width=0.8pt] (p3.west) .. controls +(-18,0) and +(14,0) .. (t\i.east);
    \draw[slateline] (t3.west) -- (t3a.east);
    \draw[slateline] (t4.west) -- (t4a.east);
    \foreach \c in {a,b}
      \draw[slateline] (t5.west) -- ++(-12,0) |- (t5\c.east);
    \foreach \i in {1,...,8}
      \draw[seaedge, line width=0.8pt] (rel.west) .. controls +(-18,0) and +(8,0) .. (r\i.east);
  \end{scope}

  \foreach \y [count=\i] in {515,1515,2515,3505,4505,5505,6510,7500} {
    \node[stamp] (wl\i) at (646,\y) {树图 {\stampfont shutu.cn}};
    \node[stamp] (wr\i) at (1927,\y) {树图 {\stampfont shutu.cn}};
  }
\end{tikzpicture}
\end{document}
